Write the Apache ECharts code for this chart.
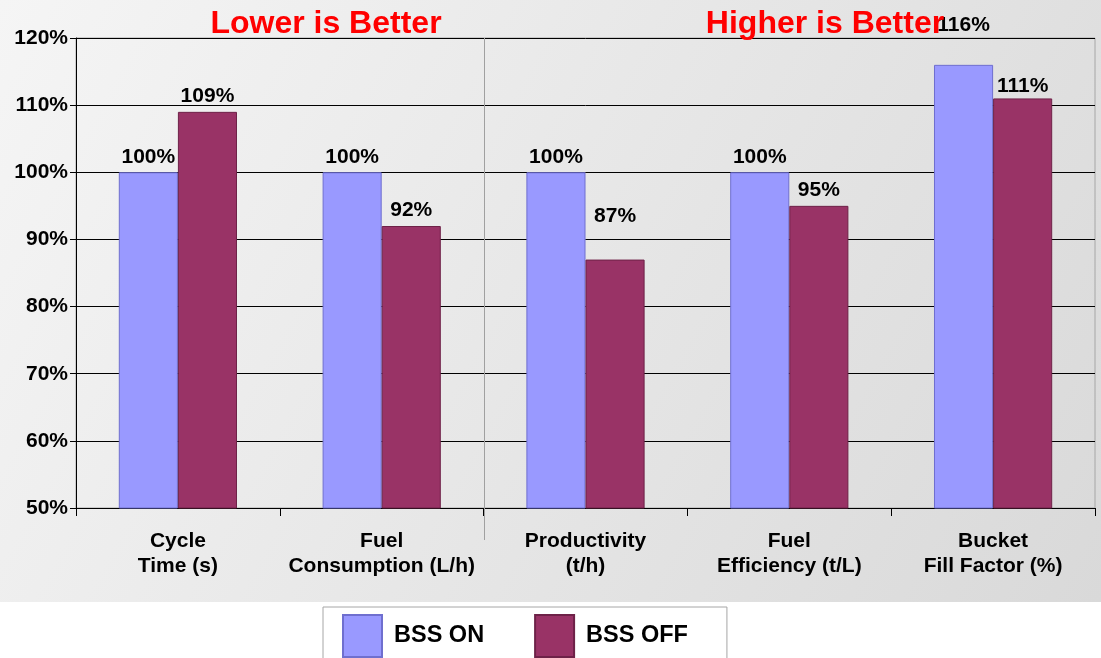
<!DOCTYPE html>
<html>
<head>
<meta charset="utf-8">
<title>BSS ON vs BSS OFF</title>
<script src="https://cdn.jsdelivr.net/npm/echarts@6/dist/echarts.min.js"></script>
<style>
  html, body { margin: 0; padding: 0; background: #ffffff; }
  #chart { width: 1101px; height: 658px; }
</style>
</head>
<body>
<div id="chart"></div>
<script>
// Machine performance relative to BSS ON (= 100%)
var categories = [
  'Cycle\nTime (s)',
  'Fuel\nConsumption (L/h)',
  'Productivity\n(t/h)',
  'Fuel\nEfficiency (t/L)',
  'Bucket\nFill Factor (%)'
];
var bssOn  = [100, 100, 100, 100, 116];
var bssOff = [109, 92, 87, 95, 111];
var seriesNames = ['BSS ON', 'BSS OFF'];
var groupHeadings = ['Lower is Better', 'Higher is Better'];

var FONT = '"Liberation Sans", Arial, Helvetica, sans-serif';

// Hand-placed label nudges (px) for a couple of value labels
var onLabelShift  = [0, 0, 0, 0, -24];
var offLabelShift = [0, 0, -28, 0, 3];

function withLabels(values, shifts) {
  return values.map(function (v, i) {
    var item = { value: v };
    if (shifts[i]) item.label = { offset: [0, shifts[i]] };
    return item;
  });
}

var labelStyle = {
  show: true,
  position: 'top',
  distance: 5,
  color: '#000',
  fontFamily: FONT,
  fontWeight: 'bold',
  fontSize: 21,
  formatter: function (p) { return Math.round(p.value) + '%'; }
};

var chart = echarts.init(document.getElementById('chart'), null, { renderer: 'canvas' });

function baseGraphics(sepX) {
  var els = [
    {
      id: 'bg', type: 'rect', z: -10, silent: true,
      shape: { x: 0, y: 0, width: 1101, height: 602 },
      style: {
        fill: new echarts.graphic.LinearGradient(0, 0, 1, 1, [
          { offset: 0, color: '#f5f5f5' },
          { offset: 1, color: '#d9d9d9' }
        ])
      }
    },
    {
      id: 'h1', type: 'text', z: 100, x: 326, y: 24,
      style: {
        text: groupHeadings[0], fill: '#ff0000', font: 'bold 32px ' + FONT,
        textAlign: 'center', textVerticalAlign: 'middle'
      }
    },
    {
      id: 'h2', type: 'text', z: 100, x: 825, y: 24,
      style: {
        text: groupHeadings[1], fill: '#ff0000', font: 'bold 32px ' + FONT,
        textAlign: 'center', textVerticalAlign: 'middle'
      }
    }
  ];
  if (sepX != null) {
    els.push({
      id: 'sep', type: 'line', z: 1, silent: true,
      shape: { x1: sepX, y1: 38, x2: sepX, y2: 540 },
      style: { stroke: '#a0a0a0', lineWidth: 1 }
    });
  }
  return els;
}

var option = {
  animation: false,
  backgroundColor: '#ffffff',
  textStyle: { fontFamily: FONT },
  grid: {
    left: 76, right: 6, top: 38, bottom: 150,
    show: true, borderColor: '#a6a6a6', borderWidth: 1, backgroundColor: 'transparent'
  },
  legend: {
    data: seriesNames,
    left: 323, top: 607,
    orient: 'horizontal',
    icon: 'rect',
    itemWidth: 39, itemHeight: 42,
    itemGap: 50,
    padding: [7, 39, 12, 19],
    backgroundColor: '#ffffff',
    borderColor: '#a6a6a6', borderWidth: 1,
    textStyle: {
      color: '#000', fontFamily: FONT, fontWeight: 'bold', fontSize: 23.5,
      padding: [0, 0, 0, 7]
    }
  },
  xAxis: {
    type: 'category',
    data: categories,
    axisLine: { show: true, lineStyle: { color: '#000', width: 1 } },
    axisTick: { show: true, alignWithLabel: false, length: 8, lineStyle: { color: '#000' } },
    axisLabel: {
      color: '#000', fontFamily: FONT, fontWeight: 'bold', fontSize: 21,
      lineHeight: 25, margin: 21, interval: 0
    },
    splitLine: { show: false }
  },
  yAxis: {
    type: 'value',
    min: 50, max: 120, interval: 10,
    axisLine: { show: true, lineStyle: { color: '#000', width: 1 } },
    axisTick: { show: true, length: 6, lineStyle: { color: '#000' } },
    axisLabel: {
      color: '#000', fontFamily: FONT, fontWeight: 'bold', fontSize: 21,
      margin: 8, formatter: '{value}%'
    },
    splitLine: { show: true, lineStyle: { color: '#000', width: 1 } }
  },
  series: [
    {
      name: seriesNames[0], type: 'bar',
      data: withLabels(bssOn, onLabelShift),
      barGap: '0%', barCategoryGap: '42%',
      itemStyle: { color: '#9999ff', borderColor: '#6f6fcf', borderWidth: 1 },
      label: labelStyle
    },
    {
      name: seriesNames[1], type: 'bar',
      data: withLabels(bssOff, offLabelShift),
      barGap: '0%', barCategoryGap: '42%',
      itemStyle: { color: '#993366', borderColor: '#6e2248', borderWidth: 1 },
      label: labelStyle
    }
  ],
  graphic: { elements: baseGraphics(null) }
};

chart.setOption(option);

// Divider between the two groups, placed on the category boundary
var c1 = chart.convertToPixel({ xAxisIndex: 0 }, 1);
var c2 = chart.convertToPixel({ xAxisIndex: 0 }, 2);
var sepX = Math.round((c1 + c2) / 2) + 0.5;
chart.setOption({ graphic: { elements: baseGraphics(sepX) } });
</script>
</body>
</html>
